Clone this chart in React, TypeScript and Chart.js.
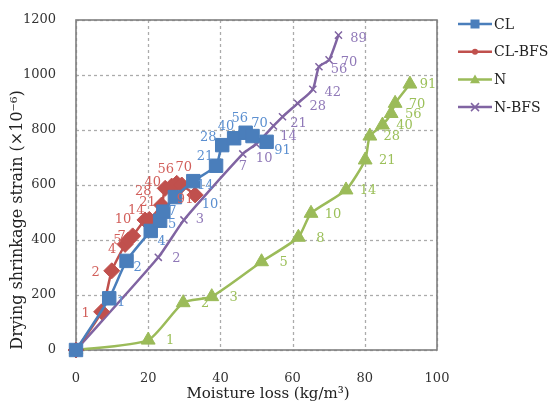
import React, { useEffect, useRef } from "react";
import { Chart, registerables } from "chart.js";

Chart.register(...registerables);

// ---- data ----
const clAges = ["", "1", "2", "4", "5", "7", "10", "14", "21", "28", "40", "56", "70", "91"];
const clLoss = [0, 9.2, 14.0, 20.7, 23.3, 24.2, 27.4, 32.5, 38.8, 40.5, 43.8, 47.0, 48.9, 52.8];
const clStrain = [0, 188, 324, 433, 470, 503, 556, 614, 670, 745, 770, 790, 778, 757];

const clbAges = ["", "1", "2", "4", "5", "7", "10", "14", "21", "28", "40", "56", "70", "91"];
const clbLoss = [0, 7.1, 9.9, 13.6, 14.5, 15.7, 19.1, 20.3, 23.7, 24.7, 26.5, 27.9, 29.3, 33.0];
const clbStrain = [0, 139, 288, 384, 400, 415, 473, 475, 527, 588, 596, 606, 600, 564];

const nAges = ["", "1", "2", "3", "5", "8", "10", "14", "21", "28", "40", "56", "70", "91"];
const nLoss = [0, 20.0, 29.7, 37.6, 51.4, 61.6, 65.1, 74.8, 80.1, 81.4, 84.9, 87.3, 88.4, 92.5];
const nStrain = [0, 36, 172, 194, 321, 410, 497, 582, 691, 778, 818, 860, 897, 967];

const nbAges = ["", "2", "3", "7", "10", "14", "21", "28", "42", "56", "70", "89"];
const nbLoss = [0, 22.8, 29.9, 46.2, 49.9, 54.7, 57.2, 61.4, 65.6, 67.3, 70.1, 72.7];
const nbStrain = [0, 337, 473, 713, 749, 815, 848, 897, 948, 1030, 1055, 1145];

const seriesNames = ["CL", "CL-BFS", "N", "N-BFS"];
const xTicks = [0, 20, 40, 60, 80, 100];
const yTicks = [0, 200, 400, 600, 800, 1000, 1200];

const colors = ["#4a7ebb", "#c0504d", "#9bbb59", "#8064a2"];
const labelColors = ["#5b8fd0", "#d2605c", "#9cc05a", "#9079b8"];
const FONT = "'DejaVu Serif', serif";

// label placement (layout only)
const labelDefault = [
  [12, 4],
  [-16, 2],
  [22, 1],
  [20, 3],
];
const labelExceptions: Record<string, [number, number]>[] = [
  { "10": [35, 8], "21": [-11, -9], "28": [-14, -8], "40": [-8, -12], "56": [-6, -14], "70": [7, -12], "91": [16, 9], "2": [11, 7], "4": [11, 11], "7": [9, 0] },
  { "10": [-22, 0], "14": [-13, -9], "21": [-14, -2], "28": [-22, 3], "40": [-19, -3], "56": [-11, -14], "70": [2, -17], "91": [-10, 5], "4": [-13, 5], "5": [-11, 1], "7": [-11, 1] },
  { "91": [18, 1] },
  { "7": [0, 13], "10": [8, 15], "14": [15, 11], "21": [16, 7], "2": [18, 1], "3": [16, 0] },
];

const ageLists = [clAges, clbAges, nAges, nbAges];

function pts(xs: number[], ys: number[]) {
  return xs.map((x, i) => ({ x, y: ys[i] }));
}

function drawMarker(ctx: CanvasRenderingContext2D, style: string, x: number, y: number, r: number, color: string) {
  ctx.save();
  ctx.fillStyle = color;
  ctx.strokeStyle = color;
  ctx.lineWidth = 1.5;
  ctx.beginPath();
  if (style === "rect") {
    ctx.rect(x - r, y - r, 2 * r, 2 * r);
    ctx.fill();
  } else if (style === "circle") {
    ctx.arc(x, y, r, 0, Math.PI * 2);
    ctx.fill();
  } else if (style === "triangle") {
    ctx.moveTo(x, y - r);
    ctx.lineTo(x + r, y + r * 0.75);
    ctx.lineTo(x - r, y + r * 0.75);
    ctx.closePath();
    ctx.fill();
  } else {
    ctx.moveTo(x - r, y - r);
    ctx.lineTo(x + r, y + r);
    ctx.moveTo(x + r, y - r);
    ctx.lineTo(x - r, y + r);
    ctx.stroke();
  }
  ctx.restore();
}

const extrasPlugin = {
  id: "extras",
  beforeDatasetsDraw(chart: any) {
    const { ctx, chartArea: a, scales } = chart;
    ctx.save();
    // dashed grid
    ctx.strokeStyle = "#ababab";
    ctx.lineWidth = 1.3;
    ctx.setLineDash([3, 3]);
    xTicks.forEach((v) => {
      const px = Math.round(scales.x.getPixelForValue(v)) + 0.5;
      ctx.beginPath();
      ctx.moveTo(px, a.top);
      ctx.lineTo(px, a.bottom);
      ctx.stroke();
    });
    yTicks.forEach((v) => {
      const py = Math.round(scales.y.getPixelForValue(v)) + 0.5;
      ctx.beginPath();
      ctx.moveTo(a.left, py);
      ctx.lineTo(a.right, py);
      ctx.stroke();
    });
    ctx.setLineDash([]);
    ctx.strokeStyle = "#7f7f7f";
    ctx.lineWidth = 1.6;
    ctx.strokeRect(a.left, a.top, a.right - a.left, a.bottom - a.top);
    ctx.restore();
  },
  afterDatasetsDraw(chart: any) {
    const { ctx } = chart;
    ctx.save();
    ctx.font = `13px ${FONT}`;
    ctx.textAlign = "center";
    ctx.textBaseline = "middle";
    chart.data.datasets.forEach((ds: any, di: number) => {
      const meta = chart.getDatasetMeta(di);
      const ages = ageLists[di];
      ctx.fillStyle = labelColors[di];
      meta.data.forEach((el: any, i: number) => {
        const t = ages[i];
        if (!t) return;
        const off = labelExceptions[di][t] || labelDefault[di];
        ctx.fillText(t, el.x + off[0], el.y + off[1]);
      });
    });
    ctx.restore();
  },
  afterDraw(chart: any) {
    const { ctx } = chart;
    ctx.save();
    // axis titles
    ctx.fillStyle = "#222";
    ctx.textAlign = "center";
    ctx.textBaseline = "middle";
    ctx.font = `15px ${FONT}`;
    ctx.fillText("Moisture loss (kg/m\u00b3)", 268, 394);
    ctx.save();
    ctx.translate(18, 220);
    ctx.rotate(-Math.PI / 2);
    ctx.font = `16px ${FONT}`;
    ctx.fillText("Drying shrinkage strain (\u00d710\u207b\u2076)", 0, 0);
    ctx.restore();
    // legend
    const styles = ["rect", "circle", "triangle", "cross"];
    const sizes = [4.5, 3, 5, 4];
    seriesNames.forEach((name, i) => {
      const y = 24 + i * 27.7;
      ctx.strokeStyle = colors[i];
      ctx.lineWidth = 2.5;
      ctx.beginPath();
      ctx.moveTo(458, y);
      ctx.lineTo(492, y);
      ctx.stroke();
      drawMarker(ctx, styles[i], 475, y, sizes[i], colors[i]);
      ctx.fillStyle = "#222";
      ctx.textAlign = "left";
      ctx.font = `14px ${FONT}`;
      ctx.fillText(name, 494, y + 1);
    });
    ctx.restore();
  },
};

export default function App() {
  const ref = useRef<HTMLCanvasElement | null>(null);
  useEffect(() => {
    document.body.style.margin = "0";
    const canvas = ref.current!;
    const mk = (i: number, d: any[], pointStyle: string, r: number) => ({
      label: seriesNames[i],
      data: d,
      borderColor: colors[i],
      backgroundColor: colors[i],
      pointBackgroundColor: colors[i],
      pointBorderColor: colors[i],
      pointStyle,
      pointRadius: r,
      pointBorderWidth: pointStyle === "crossRot" ? 1.5 : 1,
      borderWidth: 2.5,
      tension: 0.2,
      clip: false as any,
      showLine: true,
    });
    const chart = new Chart(canvas, {
      type: "scatter",
      data: {
        datasets: [
          mk(0, pts(clLoss, clStrain), "rect", 9.5),
          mk(1, pts(clbLoss, clbStrain), "rectRot", 8),
          mk(2, pts(nLoss, nStrain), "triangle", 8),
          mk(3, pts(nbLoss, nbStrain), "crossRot", 5),
        ],
      },
      options: {
        responsive: false,
        animation: false,
        layout: { padding: { left: 0, top: 20, right: 113, bottom: 0 } },
        plugins: { legend: { display: false }, tooltip: { enabled: false } },
        scales: {
          x: {
            type: "linear",
            min: 0,
            max: 100,
            afterFit: (s: any) => { s.height = 53; },
            afterBuildTicks: (s: any) => { s.ticks = xTicks.map((v) => ({ value: v })); },
            ticks: { color: "#333", font: { family: FONT, size: 13 }, padding: 13, callback: (v: any) => String(v) },
            grid: { display: false },
            border: { display: false },
          },
          y: {
            type: "linear",
            min: 0,
            max: 1200,
            afterFit: (s: any) => { s.width = 76; },
            afterBuildTicks: (s: any) => { s.ticks = yTicks.map((v) => ({ value: v })); },
            ticks: { color: "#333", font: { family: FONT, size: 13 }, padding: 12, callback: (v: any) => String(v) },
            grid: { display: false },
            border: { display: false },
          },
        },
      },
      plugins: [extrasPlugin],
    });
    return () => chart.destroy();
  }, []);
  return (
    <div style={{ width: 550, height: 403, background: "#fff" }}>
      <canvas ref={ref} width={550} height={403} />
    </div>
  );
}
